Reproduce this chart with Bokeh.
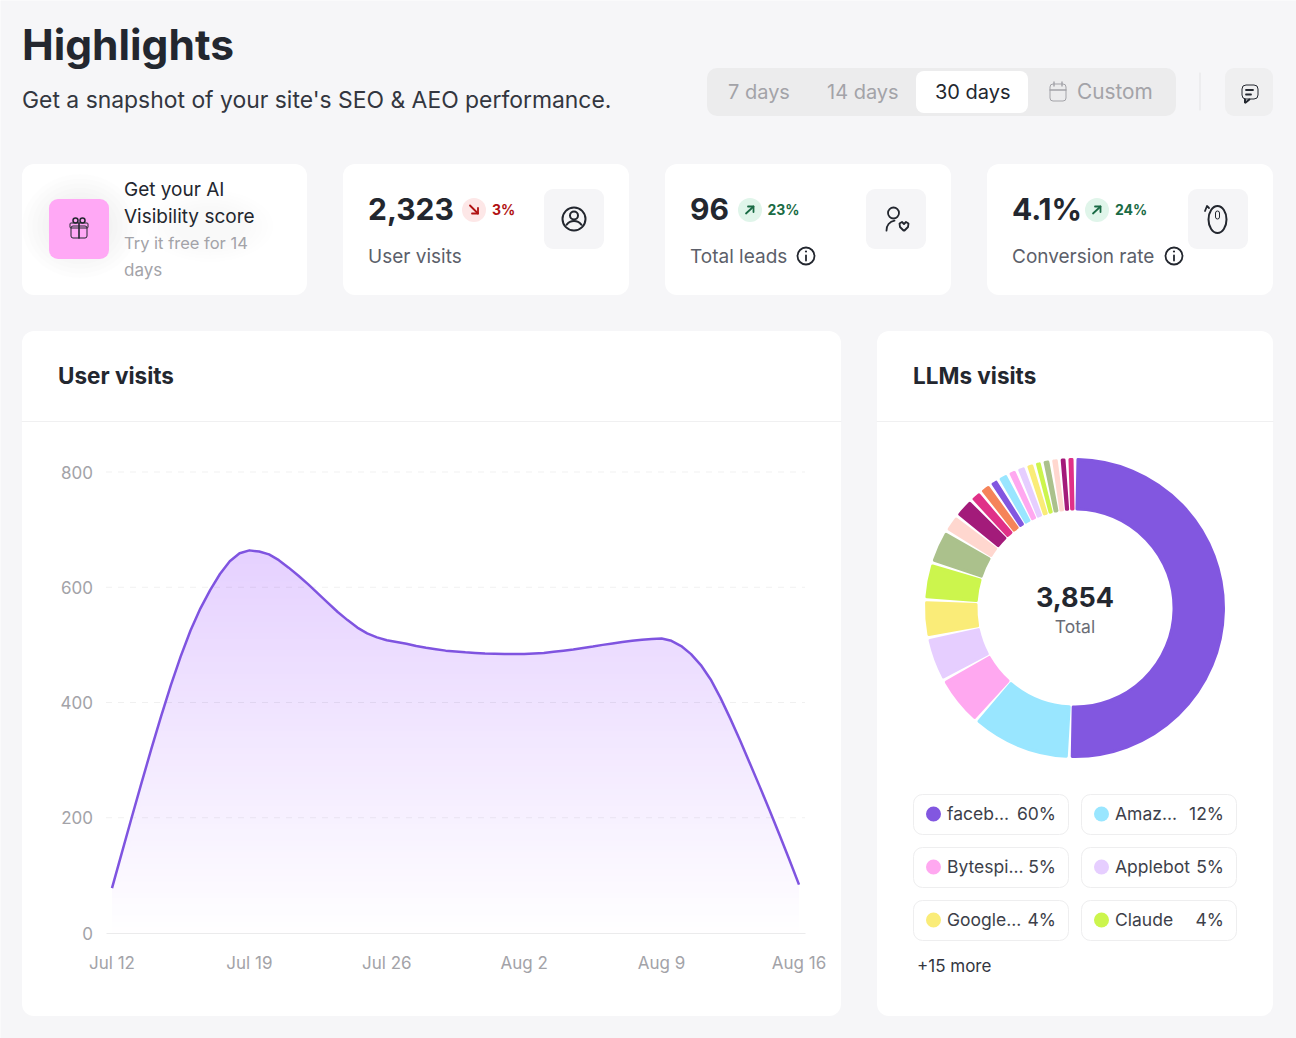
from math import pi
from bokeh.core.properties import value
from bokeh.embed import file_html
from bokeh.models import ColumnDataSource, FixedTicker, LinearAxis, Range1d
from bokeh.plotting import figure
from bokeh.resources import INLINE

# ---------- data ----------
day_offset = [0, 0.5, 1, 1.5, 2, 2.5, 3, 3.5, 4, 4.5, 5, 5.5, 6, 6.5, 7, 7.5, 8, 8.5, 9, 9.5,
              10, 10.5, 11, 11.5, 12, 12.5, 13, 13.5, 14, 14.5, 15, 15.5, 16, 16.5, 17, 17.5,
              18, 18.5, 19, 19.5, 20, 20.5, 21, 21.5, 22, 22.5, 23, 23.5, 24, 24.5, 25, 25.5,
              26, 26.5, 27, 27.5, 28, 28.5, 29, 29.5, 30, 30.5, 31, 31.5, 32, 32.5, 33, 33.5,
              34, 34.5, 35]
user_visits = [78, 139, 200, 260, 319, 376, 430, 480, 525, 563, 595, 623, 645, 659, 664, 662,
               657, 647, 634, 620, 605, 589, 573, 557, 543, 530, 520, 513, 508, 505, 502, 498,
               495, 492.5, 490, 488.5, 487, 486, 485, 484.5, 484, 484, 484, 485, 486, 488, 490, 492,
               494.5, 497, 500, 502.5, 505, 507, 509, 510, 511, 507, 498, 484, 465, 440, 408, 372,
               334, 294, 254, 213, 171, 128, 84]
date_tick_days = [0, 7, 14, 21, 28, 35]
date_tick_labels = ["Jul 12", "Jul 19", "Jul 26", "Aug 2", "Aug 9", "Aug 16"]
value_ticks = [0, 200, 400, 600, 800]

llm_visits = [1943, 418, 211, 185, 156, 154, 142, 75, 86, 51, 49, 39, 46, 39, 40, 37, 32, 36, 35, 32, 33]
llm_colors = ["#8257e0", "#99e6ff", "#ffa8f0", "#e6ceff", "#faec78", "#ccf54d", "#abc18c", "#ffd7cf",
              "#a31b7a", "#e03188", "#f5845a", "#8257e0", "#99e6ff", "#ffa8f0", "#e6ceff", "#faec78",
              "#ccf54d", "#abc18c", "#ffd7cf", "#a31b7a", "#e03188"]
legend_names = ["faceb...", "Amaz...", "Bytespi...", "Applebot", "Google...", "Claude"]
legend_shares = ["60%", "12%", "5%", "5%", "4%", "4%"]

# ---------- page geometry and style ----------
FONT = "Inter"
INK = "#23272f"
MUTED = "#5c5f6a"
FAINT = "#a3a3a8"
PAGE = "#f6f6f8"
TILE = "#f5f5f7"
X0, X1, Y0, Y1 = 0.5, 1296.5, 0.5, 1038.5       # the canvas, in reference pixels
PX_PER_DAY = (799 - 112) / 35
PX_PER_VISIT = (933 - 472) / 800

p = figure(
    width=1296, height=1038, output_backend="svg", toolbar_location=None,
    x_axis_location=None, y_axis_location=None, min_border=0, outline_line_color=None,
    background_fill_color=PAGE, border_fill_color=PAGE,
    x_range=Range1d((X0 - 112) / PX_PER_DAY, (X1 - 112) / PX_PER_DAY),
    y_range=Range1d((933 - Y1) / PX_PER_VISIT, (933 - Y0) / PX_PER_VISIT),
)
p.grid.visible = False
p.extra_x_ranges["px"] = Range1d(X0, X1)
p.extra_y_ranges["px"] = Range1d(Y1, Y0)
p.extra_x_ranges["donut"] = Range1d(X0 - 1075, X1 - 1075)
p.extra_y_ranges["donut"] = Range1d(608 - Y1, 608 - Y0)
PX = dict(x_range_name="px", y_range_name="px")


def box(l, t, r, b, fill, radius=0, line=None, alpha=1.0):
    p.quad(left=l, right=r, top=t, bottom=b, fill_color=fill, fill_alpha=alpha,
           line_color=line, border_radius=radius, **PX)


def txt(x, y, s, size, color, style="normal", align="left"):
    p.text(x=[x], y=[y + 0.5 - 0.39 * size], text=[s], text_font=value(FONT), text_font_size=f"{size}px",
           text_color=color, text_font_style=style, text_align=align, text_baseline="alphabetic", **PX)


def stroke(xs, ys, color=INK, width=1.8):
    p.line(x=xs, y=ys, line_color=color, line_width=width, line_cap="round", line_join="round", **PX)


def ring(x, y, r, color=INK, width=1.8):
    p.ellipse(x=x, y=y, width=2 * r, height=2 * r, fill_color=None, line_color=color, line_width=width, **PX)


def disc(x, y, r, color):
    p.ellipse(x=x, y=y, width=2 * r, height=2 * r, fill_color=color, line_color=None, **PX)


def arc(x, y, r, a0, a1, color=INK, width=1.8):
    p.arc(x=x, y=y, radius=r, start_angle=a0, end_angle=a1, line_color=color, line_width=width,
          line_cap="round", **PX)


# ---------- cards ----------
for l, r in [(22, 307), (343, 629), (665, 951), (987, 1273)]:
    box(l, 164, r, 295, "#ffffff", 12)
box(22, 331, 841, 1016, "#ffffff", 12)
box(877, 331, 1273, 1016, "#ffffff", 12)
stroke([22, 841], [421.5, 421.5], "#f0f0f1", 1)
stroke([877, 1273], [421.5, 421.5], "#f0f0f1", 1)

# soft shadow behind the promo card
for k in range(6):
    w = 116 - 10 * k
    h = 104 - 9 * k
    p.ellipse(x=80, y=226, width=w, height=h, fill_color="#000000", fill_alpha=0.007, line_color=None, **PX)
    p.ellipse(x=210, y=226, width=w * 1.1, height=h * 0.7, fill_color="#000000", fill_alpha=0.005, line_color=None, **PX)

# ---------- header ----------
txt(22, 61, "Highlights", 42.5, INK, "bold")
txt(22, 108, "Get a snapshot of your site's SEO & AEO performance.", 22.9, "#33363f")
box(707, 68, 1176, 116, "#ececed", 10)
box(916, 71, 1028, 113, "#ffffff", 8)
txt(728, 99, "7 days", 20, FAINT)
txt(827, 99, "14 days", 20, FAINT)
txt(935, 99, "30 days", 20, INK)
txt(1077, 99, "Custom", 20.8, FAINT)
box(1050, 84, 1066, 101, None, 3, FAINT)
stroke([1050, 1066], [90, 90], FAINT, 1.4)
stroke([1054, 1054], [82, 86], FAINT, 1.4)
stroke([1062, 1062], [82, 86], FAINT, 1.4)
stroke([1200, 1200], [73, 110], "#e4e4e6", 1)
box(1225, 68, 1273, 116, "#efeff0", 9)
box(1242, 85, 1258, 99, None, 4, INK)
p.line(x=[1245, 1245, 1250], y=[99, 103, 99], line_color=INK, line_width=2, **PX)
stroke([1246, 1253], [90, 90], INK, 1.8)
stroke([1246, 1251], [94.5, 94.5], INK, 1.8)

# ---------- promo card ----------
box(49, 199, 109, 259, "#ffa8f5", 9)
box(71, 226, 87, 238, None, 2, INK)
box(70, 223, 88, 228, None, 1, INK)
stroke([79, 79], [223, 238], INK, 1.6)
ring(75.5, 220.5, 2.5, INK, 1.5)
ring(82.5, 220.5, 2.5, INK, 1.5)
txt(124, 196, "Get your AI", 19, INK)
txt(124, 223, "Visibility score", 19, INK)
txt(124, 249, "Try it free for 14", 16.5, FAINT)
txt(124, 276, "days", 17, FAINT)

# ---------- KPI cards ----------
RED_BG, RED = "#fde7e7", "#b01212"
GREEN_BG, GREEN = "#e0f5ea", "#1a6b45"

txt(368, 220.5, "2,323", 30, INK, "bold")
disc(474, 210, 12, RED_BG)
stroke([470, 478], [205.5, 213.5], RED, 1.8)
stroke([478, 478, 472], [208, 213.5, 213.5], RED, 1.8)
txt(492, 214, "3%", 14, RED, "bold")
txt(368, 263, "User visits", 19, MUTED)
box(544, 189, 604, 249, TILE, 9)
ring(574, 219, 11.5, INK, 2)
ring(574, 215.5, 4, INK, 2)
arc(574, 230, 9, pi * 0.2, pi * 0.8, INK, 2)

txt(690, 220.5, "96", 30, INK, "bold")
disc(750, 210, 12, GREEN_BG)
stroke([746, 753.5], [213.5, 206.5], GREEN, 1.8)
stroke([748, 753.5, 753.5], [206.5, 206.5, 212], GREEN, 1.8)
txt(767.5, 214, "23%", 14, GREEN, "bold")
txt(690, 263, "Total leads", 19, MUTED)
ring(806, 256, 8.5, INK, 1.8)
stroke([806, 806], [255.5, 260.5], INK, 1.8)
disc(806, 251.5, 1.1, INK)
box(866, 189, 926, 249, TILE, 9)
ring(893.5, 213, 5.5, INK, 1.8)
arc(896, 230, 9.5, pi * 0.55, pi * 1.02, INK, 1.8)
p.line(x=[904, 900, 899.5, 902, 904, 906, 908.5, 908, 904], y=[231, 227, 223.5, 222, 224, 222, 223.5, 227, 231],
       line_color=INK, line_width=1.8, line_join="round", **PX)

txt(1012, 220.5, "4.1%", 30, INK, "bold")
disc(1097, 210, 12, GREEN_BG)
stroke([1093, 1100.5], [213.5, 206.5], GREEN, 1.8)
stroke([1095, 1100.5, 1100.5], [206.5, 206.5, 212], GREEN, 1.8)
txt(1115, 214, "24%", 14, GREEN, "bold")
txt(1012, 263, "Conversion rate", 19, MUTED)
ring(1174, 256, 8.5, INK, 1.8)
stroke([1174, 1174], [255.5, 260.5], INK, 1.8)
disc(1174, 251.5, 1.1, INK)
box(1188, 189, 1248, 249, TILE, 9)
p.ellipse(x=1217.5, y=219.5, width=18, height=27, fill_color=None, line_color=INK, line_width=2, **PX)
box(1215.5, 211, 1219.5, 219, None, 2, INK)
stroke([1205, 1207, 1209], [211, 206, 208], INK, 1.8)

# ---------- user visits chart ----------
txt(58, 384, "User visits", 22.5, INK, "bold")

# gradient: stacked layers of the same values, capped at descending levels
for level in range(680, 0, -10):
    f = level / 680
    col = "#%02x%02x%02x" % (round(255 - 26 * f), round(255 - 47 * f), 255)
    p.varea(x=day_offset, y1=[0] * len(user_visits), y2=[min(v, level) for v in user_visits], fill_color=col)

x_lo, x_hi = (106 - 112) / PX_PER_DAY, (805 - 112) / PX_PER_DAY
for tick in value_ticks[1:]:
    p.line(x=[x_lo, x_hi], y=[tick, tick], line_color="#000000", line_alpha=0.06,
           line_dash=[6, 6], line_width=1)
p.line(x=day_offset, y=user_visits, line_color="#7f54e0", line_width=2.5, line_join="round")

xaxis = LinearAxis(fixed_location=0, ticker=FixedTicker(ticks=date_tick_days),
                   major_label_overrides=dict(zip(date_tick_days, date_tick_labels)),
                   bounds=(x_lo, x_hi), axis_line_color="#ebebec", axis_line_width=1,
                   major_tick_line_color=None, minor_tick_line_color=None, major_label_standoff=14,
                   major_label_text_color=FAINT, major_label_text_font=FONT,
                   major_label_text_font_size="17px")
p.add_layout(xaxis, "below")
yaxis = LinearAxis(fixed_location=x_lo, ticker=FixedTicker(ticks=value_ticks), axis_line_color=None,
                   major_tick_line_color=None, minor_tick_line_color=None, major_label_standoff=7,
                   major_label_text_color=FAINT, major_label_text_font=FONT,
                   major_label_text_font_size="17px")
p.add_layout(yaxis, "left")

# ---------- LLMs donut ----------
txt(913, 384, "LLMs visits", 22.5, INK, "bold")
total = sum(llm_visits)
starts, ends, running = [], [], 0
PAD = 0.02
for v in llm_visits:
    a0 = pi / 2 - 2 * pi * running / total
    running += v
    a1 = pi / 2 - 2 * pi * running / total
    starts.append(a1 + PAD)
    ends.append(a0 - PAD)
p.annular_wedge(x=0, y=0, inner_radius=99, outer_radius=148.5, start_angle="start", end_angle="end",
                fill_color="color", line_color="color", line_width=3, line_join="round",
                source=ColumnDataSource(dict(start=starts, end=ends, color=llm_colors)),
                x_range_name="donut", y_range_name="donut")
txt(1075, 607, "3,854", 27, INK, "bold", "center")
txt(1075, 633, "Total", 17.5, "#6b6d76", "normal", "center")

# ---------- legend chips ----------
for i, (name, share) in enumerate(zip(legend_names, legend_shares)):
    col_l = 913 if i % 2 == 0 else 1081
    top = 794 + 53 * (i // 2)
    box(col_l + 0.5, top + 0.5, col_l + 155.5, top + 40.5, "#ffffff", 9, "#eeeeef")
    disc(col_l + 20.5, top + 20, 7.5, llm_colors[i])
    txt(col_l + 34, top + 26, name, 17.5, "#3d3f4a")
    txt(col_l + 143, top + 26, share, 17.5, "#3d3f4a", "normal", "right")
txt(917, 972, "+15 more", 17, "#33363f")

open("out.html", "w").write(file_html(p, INLINE))
